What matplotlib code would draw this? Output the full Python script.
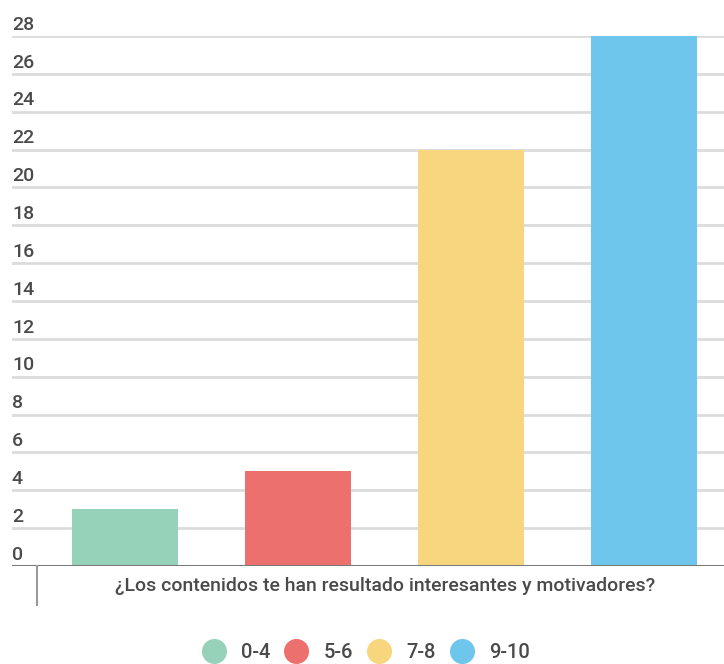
import matplotlib.pyplot as plt
from matplotlib.lines import Line2D
import matplotlib.transforms as mtransforms

# data
groups = ['0-4', '5-6', '7-8', '9-10']
counts = [3, 5, 22, 28]
colors = ['#96D2B9', '#EC706E', '#F7D67D', '#6EC6EC']
yticks = list(range(0, 29, 2))
question = '¿Los contenidos te han resultado interesantes y motivadores?'

plt.rcParams['font.family'] = ['Roboto', 'DejaVu Sans']
txt = '#4a4a4a'

W, H = 724, 664
fig = plt.figure(figsize=(W / 100, H / 100), dpi=100)
left, right = 12 / W, 1.0
bottom, top = 1 - 566 / H, 1 - 36 / H
ax = fig.add_axes([left, bottom, right - left, top - bottom])

# one band per group, band width 173px, first bar centre at x=125px
band = 173
x0 = (12 - 125) / band
x1 = (724 - 125) / band
ax.set_xlim(x0, x1)
ax.set_ylim(0, 28)

for y in yticks[1:]:
    ax.axhline(y, color='#dcdcdc', lw=2, zorder=0)
ax.axhline(0, color='#7a7a7a', lw=2.2, zorder=3)

xs = list(range(len(groups)))
ax.bar(xs, counts, width=106 / band, color=colors, zorder=2)

trans = mtransforms.blended_transform_factory(ax.transAxes, ax.transData)
for y in yticks:
    ax.text(0, y + 0.12, str(y), transform=trans, ha='left', va='bottom',
            fontsize=14, color=txt, fontweight='medium')

for s in ax.spines.values():
    s.set_visible(False)
ax.set_xticks([])
ax.set_yticks([])

# small vertical tick under the axis at the start of the first band
fig.add_artist(Line2D([37 / W, 37 / W], [1 - 566 / H, 1 - 605 / H],
                      color='#9a9a9a', lw=1.5))
fig.text(385 / W, 1 - 586 / H, question, ha='center', va='center',
         fontsize=14, color=txt, fontweight='medium')

# legend
handles = [Line2D([], [], marker='o', ls='', markersize=17,
                  markerfacecolor=c, markeredgecolor=c) for c in colors]
fig.legend(handles, groups, loc='center', bbox_to_anchor=(0.506, 1 - 653 / H),
           ncol=4, frameon=False, prop={'size': 14.5, 'weight': 'medium'},
           handlelength=1.1, handletextpad=0.8, columnspacing=0.75,
           labelcolor=txt)

fig.savefig('out.png', dpi=100)
